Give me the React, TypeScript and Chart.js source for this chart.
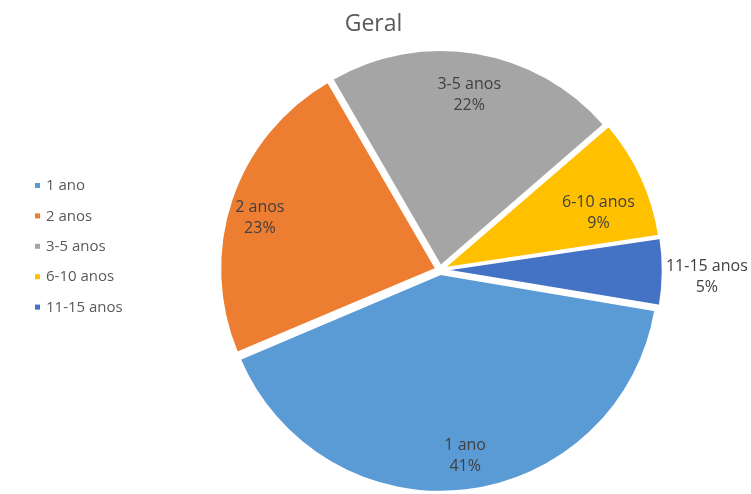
import React, { useEffect, useRef } from "react";
import { Chart, registerables } from "chart.js";

Chart.register(...registerables);

const TITLE = "Geral";
const CATEGORIES = ["1 ano", "2 anos", "3-5 anos", "6-10 anos", "11-15 anos"];
const VALUES = [41, 23, 22, 9, 5];
const COLORS = ["#5B9BD5", "#ED7D31", "#A5A5A5", "#FFC000", "#4472C4"];
const LABEL_RADIUS = [0.87, 0.868, 0.82, 0.78, 1.236];
const LABEL_ANGLE_SHIFT = [-1, -2.4, 0, 4.8, 1];

const FONT = "'Open Sans', 'Noto Sans', sans-serif";

const decorPlugin = {
  id: "decor",
  afterDatasetsDraw(chart: any) {
    const ctx = chart.ctx;
    const meta = chart.getDatasetMeta(0);
    const data = chart.data.datasets[0].data as number[];
    const total = data.reduce((a, b) => a + b, 0);
    ctx.save();
    ctx.font = `16px ${FONT}`;
    ctx.fillStyle = "#404040";
    ctx.textAlign = "center";
    ctx.textBaseline = "middle";
    meta.data.forEach((arc: any, i: number) => {
      const p = arc.getProps(["x", "y", "startAngle", "endAngle", "outerRadius"], true);
      const mid = (p.startAngle + p.endAngle) / 2 + (LABEL_ANGLE_SHIFT[i] * Math.PI) / 180;
      const r = p.outerRadius * LABEL_RADIUS[i];
      const x = p.x + Math.cos(mid) * r;
      const y = p.y + Math.sin(mid) * r;
      const pct = Math.round((data[i] / total) * 100) + "%";
      ctx.fillText(String(chart.data.labels[i]), x, y - 10.5);
      ctx.fillText(pct, x, y + 10.5);
    });
    ctx.restore();
  },
  afterDraw(chart: any) {
    const ctx = chart.ctx;
    ctx.save();
    ctx.font = `23px ${FONT}`;
    ctx.fillStyle = "#595959";
    ctx.textAlign = "center";
    ctx.textBaseline = "middle";
    ctx.fillText(TITLE, chart.width / 2 - 2, 24);
    const colors = chart.data.datasets[0].backgroundColor as string[];
    ctx.font = `15px ${FONT}`;
    ctx.textAlign = "left";
    (chart.data.labels as string[]).forEach((lab, i) => {
      const y = 186 + i * 30.4;
      ctx.fillStyle = colors[i];
      ctx.fillRect(35, y - 3, 5, 5);
      ctx.fillStyle = "#595959";
      ctx.fillText(lab, 46, y);
    });
    ctx.restore();
  },
};

export default function App() {
  const ref = useRef<HTMLCanvasElement | null>(null);
  useEffect(() => {
    if (!ref.current) return;
    const chart = new Chart(ref.current, {
      type: "pie",
      data: {
        labels: CATEGORIES,
        datasets: [
          {
            data: VALUES,
            backgroundColor: COLORS,
            borderColor: "#ffffff",
            borderWidth: 2,
            offset: 16,
          },
        ],
      },
      options: {
        responsive: false,
        animation: false,
        rotation: 99.5,
        radius: 216,
        layout: { padding: { left: 220, right: 91, top: 50, bottom: 4 } },
        plugins: {
          legend: { display: false },
          title: { display: false },
          tooltip: { enabled: false },
        },
      },
      plugins: [decorPlugin],
    });
    return () => chart.destroy();
  }, []);
  return (
    <div style={{ position: "fixed", left: 0, top: 0, width: 751, height: 494, background: "#fff" }}>
      <canvas ref={ref} width={751} height={494} />
    </div>
  );
}
